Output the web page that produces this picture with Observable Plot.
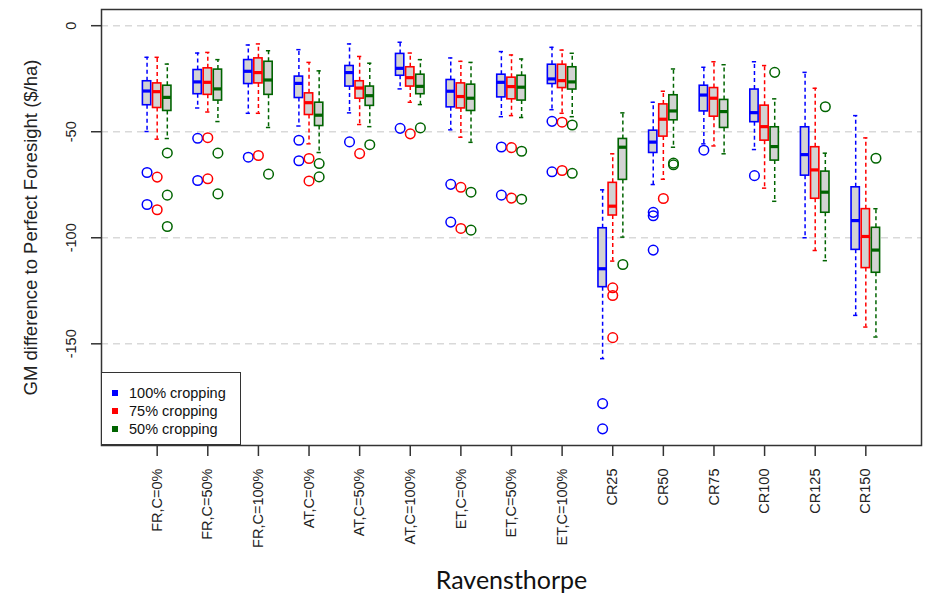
<!DOCTYPE html>
<html>
<head>
<meta charset="utf-8">
<script src="https://cdn.jsdelivr.net/npm/d3@7"></script>
<script src="https://cdn.jsdelivr.net/npm/@observablehq/plot@0.6"></script>
<style>
  body { margin: 0; background: #fff; }
  #wrap { position: relative; width: 927px; height: 600px; font-family: "Liberation Sans", Arial, sans-serif; }
  #legend { position: absolute; left: 101px; top: 372px; width: 140px; height: 73px; border: 1.5px solid #333; background: #fff; box-sizing: border-box; }
  .lg { position: absolute; left: 0; height: 18px; line-height: 18px; font-size: 14.5px; color: #111; white-space: nowrap; }
  .sw { position: absolute; left: 10px; top: 6px; width: 6px; height: 6px; }
  .lt { position: absolute; left: 27px; top: 0; }
</style>
</head>
<body>
<div id="wrap"></div>
<script>
// ---- data ----
const categories = ["FR,C=0%","FR,C=50%","FR,C=100%","AT,C=0%","AT,C=50%","AT,C=100%","ET,C=0%","ET,C=50%","ET,C=100%","CR25","CR50","CR75","CR100","CR125","CR150"];
const series = ["100% cropping","75% cropping","50% cropping"];
const seriesColors = ["#0000ff","#ff0000","#006400"];
const yTicks = [0, -50, -100, -150];
const xTitle = "Ravensthorpe";
const yTitle = "GM difference to Perfect Foresight ($/ha)";

// 100% cropping
const upper100  = [-14.9,-12.9,-9.1,-11.3,-8.6,-7.8,-15.2,-12.2,-10.2,-77.4,-36.1,-19.6,-17.0,-22.0,-42.4];
const q3_100    = [-26.2,-20.9,-16.2,-24.0,-19.0,-13.3,-25.6,-23.1,-18.4,-95.5,-49.5,-28.3,-30.1,-47.9,-76.2];
const median100 = [-30.8,-26.5,-21.5,-27.2,-22.1,-20.1,-30.9,-26.7,-25.1,-114.6,-54.9,-32.7,-41.0,-60.8,-91.9];
const q1_100    = [-37.5,-32.3,-27.5,-34.1,-28.7,-23.6,-38.5,-33.8,-27.5,-123.3,-60.0,-40.4,-45.5,-70.7,-105.7];
const lower100  = [-49.9,-38.8,-41.3,-47.3,-41.1,-29.8,-49.1,-42.9,-39.6,-157.0,-74.9,-55.7,-58.4,-100.0,-136.6];
const outliers100 = [[-69.2,-84.3],[-53.1,-73.0],[-62.0],[-54.0,-63.7],[-54.8],[-48.4],[-74.8,-92.6],[-57.2,-79.9],[-45.1,-68.9],[-178.2,-190.1],[-88.0,-89.6,-105.8],[-58.7],[-70.7],[],[]];

// 75% cropping
const upper75  = [-14.9,-12.6,-8.6,-17.3,-14.5,-12.9,-16.8,-13.8,-11.5,-60.4,-30.9,-17.0,-18.8,-29.5,-52.9];
const q3_75    = [-27.2,-20.1,-15.4,-31.9,-26.2,-19.6,-27.2,-24.5,-18.4,-74.1,-37.1,-29.4,-37.7,-57.3,-86.5];
const median75 = [-31.1,-26.7,-22.1,-36.3,-29.4,-24.5,-33.4,-28.7,-25.9,-85.1,-44.1,-34.2,-47.6,-68.0,-99.4];
const q1_75    = [-38.8,-32.6,-27.2,-42.1,-34.4,-28.7,-39.0,-34.7,-29.4,-89.5,-52.3,-42.9,-54.2,-81.6,-114.3];
const lower75  = [-53.5,-40.7,-41.3,-55.7,-46.6,-36.1,-52.6,-42.4,-41.3,-111.0,-72.4,-56.7,-76.6,-106.0,-142.1];
const outliers75 = [[-71.4,-86.8],[-52.8,-72.2],[-61.2],[-62.6,-73.2],[-60.3],[-51.0],[-76.2,-95.6],[-57.5,-81.3],[-45.5,-68.3],[-123.6,-127.2,-147.1],[-81.5],[],[],[],[]];

// 50% cropping
const upper50  = [-18.1,-16.0,-11.8,-21.3,-17.7,-16.0,-17.3,-15.7,-13.0,-41.1,-20.4,-18.4,-34.5,-60.1,-86.3];
const q3_50    = [-28.3,-20.7,-17.0,-36.3,-28.7,-23.1,-27.8,-23.6,-19.6,-53.4,-32.8,-35.0,-47.9,-68.8,-95.3];
const median50 = [-33.8,-29.8,-25.6,-42.2,-33.0,-28.6,-34.2,-29.0,-26.5,-57.3,-40.2,-40.5,-57.0,-78.5,-105.8];
const q1_50    = [-40.2,-35.3,-32.6,-47.3,-37.8,-32.3,-40.2,-35.3,-30.1,-72.7,-44.6,-48.2,-63.6,-88.2,-116.5];
const lower50  = [-53.2,-45.2,-48.0,-59.8,-47.6,-37.2,-55.0,-43.3,-42.9,-99.7,-57.3,-60.4,-82.8,-110.8,-146.8];
const outliers50 = [[-60.0,-79.9,-94.7],[-60.1,-79.3],[-70.0],[-65.0,-71.3],[-56.1],[-48.2],[-78.5,-96.4],[-59.2,-81.8],[-46.8,-69.6],[-112.6],[-64.8,-65.6],[],[-22.0],[-38.2],[-62.5]];

// ---- build tables ----
const statSets = [
  {lo: lower100, q1: q1_100, med: median100, q3: q3_100, hi: upper100, out: outliers100},
  {lo: lower75,  q1: q1_75,  med: median75,  q3: q3_75,  hi: upper75,  out: outliers75},
  {lo: lower50,  q1: q1_50,  med: median50,  q3: q3_50,  hi: upper50,  out: outliers50}
];
const offset = [-0.2, 0, 0.2];
const halfBox = 0.082, halfCap = 0.042;

const boxes = [];
const outs = [];
statSets.forEach((s, k) => {
  categories.forEach((c, i) => {
    const x = i + offset[k];
    boxes.push({series: series[k], x, lo: s.lo[i], q1: s.q1[i], med: s.med[i], q3: s.q3[i], hi: s.hi[i]});
    s.out[i].forEach(v => outs.push({series: series[k], x, y: v}));
  });
});

const font = `"Liberation Sans", Arial, sans-serif`;

const chart = Plot.plot({
  width: 927,
  height: 600,
  marginLeft: 101,
  marginRight: 6,
  marginTop: 9,
  marginBottom: 155,
  style: {fontFamily: font, background: "#fff"},
  x: {type: "linear", domain: [-1.1, 15.1]},
  y: {type: "linear", domain: [-197.95, 7.64]},
  color: {domain: series, range: seriesColors},
  marks: [
    Plot.ruleY(yTicks, {stroke: "#d9d9d9", strokeWidth: 1.5, strokeDasharray: "7,5"}),
    // whiskers
    Plot.ruleX(boxes, {x: "x", y1: "q3", y2: "hi", stroke: "series", strokeWidth: 1.5, strokeDasharray: "4,3"}),
    Plot.ruleX(boxes, {x: "x", y1: "q1", y2: "lo", stroke: "series", strokeWidth: 1.5, strokeDasharray: "4,3"}),
    Plot.ruleY(boxes, {y: "hi", x1: d => d.x - halfCap, x2: d => d.x + halfCap, stroke: "series", strokeWidth: 1.5}),
    Plot.ruleY(boxes, {y: "lo", x1: d => d.x - halfCap, x2: d => d.x + halfCap, stroke: "series", strokeWidth: 1.5}),
    // boxes
    Plot.rect(boxes, {x1: d => d.x - halfBox, x2: d => d.x + halfBox, y1: "q1", y2: "q3", fill: "#d3d3d3", stroke: "series", strokeWidth: 1.6}),
    Plot.ruleY(boxes, {y: "med", x1: d => d.x - halfBox, x2: d => d.x + halfBox, stroke: "series", strokeWidth: 3.2}),
    // outliers
    Plot.dot(outs, {x: "x", y: "y", r: 4.8, stroke: "series", fill: "none", strokeWidth: 1.5}),
    Plot.frame({stroke: "#333", strokeWidth: 1.5}),
    // axes
    Plot.axisY(yTicks, {anchor: "left", label: null, tickSize: 10, tickFormat: () => "", stroke: "#333", strokeWidth: 1.5}),
    Plot.text(yTicks, {y: d => d, text: d => String(d), frameAnchor: "left", dx: -30, rotate: -90, textAnchor: "middle", lineAnchor: "middle", fontSize: 14.5, fill: "#222"}),
    Plot.axisX(d3.range(categories.length), {anchor: "bottom", label: null, tickSize: 11, tickFormat: () => "", stroke: "#333", strokeWidth: 1.5}),
    Plot.text(d3.range(categories.length), {x: d => d, text: d => categories[d], frameAnchor: "bottom", dy: 23, rotate: -90, textAnchor: "end", lineAnchor: "middle", fontSize: 14.5, fill: "#222"}),
    // titles
    Plot.text([xTitle], {text: d => d, frameAnchor: "bottom", dy: 143, lineAnchor: "bottom", textAnchor: "middle", fontSize: 25, fontFamily: "Lato, 'Open Sans', sans-serif", fill: "#111"}),
    Plot.text([yTitle], {text: d => d, frameAnchor: "left", dx: -70, rotate: -90, textAnchor: "middle", lineAnchor: "middle", fontSize: 18.5, fill: "#222"})
  ]
});

const wrap = document.getElementById("wrap");
wrap.appendChild(chart);

// legend (inside the plot frame, bottom-left)
const legend = document.createElement("div");
legend.id = "legend";
series.forEach((s, k) => {
  const row = document.createElement("div");
  row.className = "lg";
  row.style.top = (11 + k * 18) + "px";
  const sw = document.createElement("div");
  sw.className = "sw";
  sw.style.background = seriesColors[k];
  const t = document.createElement("div");
  t.className = "lt";
  t.textContent = s;
  row.appendChild(sw);
  row.appendChild(t);
  legend.appendChild(row);
});
wrap.appendChild(legend);
</script>
</body>
</html>
